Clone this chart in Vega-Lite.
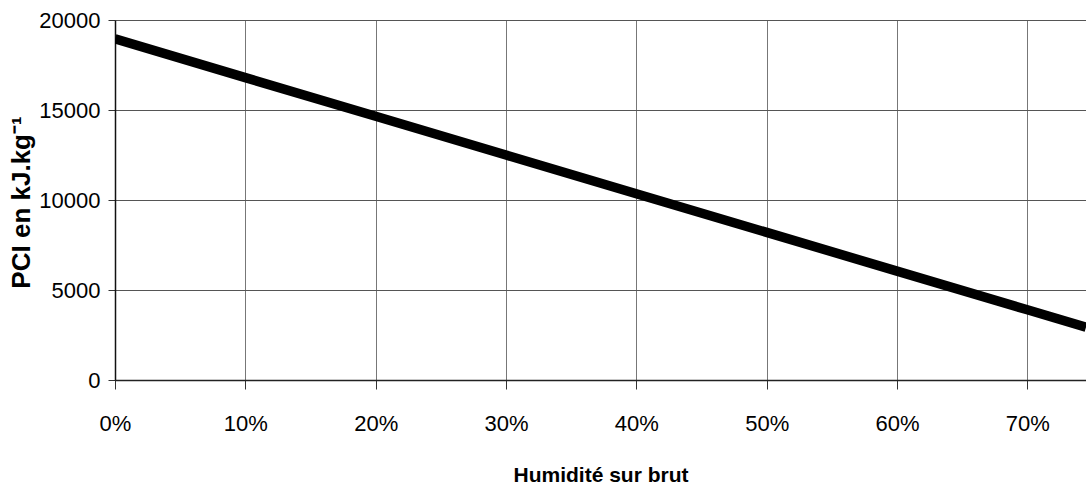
{
  "$schema": "https://vega.github.io/schema/vega-lite/v6.json",
  "autosize": "none",
  "width": 971,
  "height": 360,
  "padding": {"left": 115, "top": 20, "right": 0, "bottom": 110},
  "background": "white",
  "config": {"view": {"stroke": null}},
  "data": {"values": [
    {"h": 0.0, "pci": 18950},
    {"h": 0.1, "pci": 16800},
    {"h": 0.2, "pci": 14650},
    {"h": 0.3, "pci": 12500},
    {"h": 0.4, "pci": 10350},
    {"h": 0.5, "pci": 8200},
    {"h": 0.6, "pci": 6050},
    {"h": 0.7, "pci": 3900},
    {"h": 0.745, "pci": 2930}
  ]},
  "mark": {"type": "line", "color": "black", "strokeWidth": 9.5, "clip": true, "strokeCap": "butt"},
  "encoding": {
    "x": {
      "field": "h", "type": "quantitative",
      "scale": {"domain": [0, 0.745], "nice": false, "zero": false},
      "axis": {
        "values": [0, 0.1, 0.2, 0.3, 0.4, 0.5, 0.6, 0.7],
        "format": ".0%",
        "labelFlush": false,
        "title": "Humidité sur brut",
        "titleFont": "Liberation Sans, Arial, sans-serif",
        "titleFontSize": 21, "titleFontWeight": "bold", "titleColor": "black",
        "titlePadding": 30,
        "labelFont": "Liberation Sans, Arial, sans-serif",
        "labelFontSize": 22, "labelColor": "black", "labelPadding": 24,
        "tickSize": 9, "tickColor": "#333", "domainColor": "#222", "domainWidth": 1.5,
        "grid": true, "gridColor": "#777", "gridWidth": 1
      }
    },
    "y": {
      "field": "pci", "type": "quantitative",
      "scale": {"domain": [0, 20000], "nice": false},
      "axis": {
        "values": [0, 5000, 10000, 15000, 20000],
        "format": "d",
        "labelFlush": false,
        "title": "PCI en kJ.kg⁻¹",
        "titleFont": "Liberation Sans, Arial, sans-serif",
        "titleFontSize": 26, "titleFontWeight": "bold", "titleColor": "black",
        "titlePadding": 4,
        "titleY": 182,
        "labelFont": "Liberation Sans, Arial, sans-serif",
        "labelFontSize": 22, "labelColor": "black", "labelPadding": 8,
        "tickSize": 7, "tickColor": "#333", "domainColor": "#111", "domainWidth": 1.5,
        "grid": true, "gridColor": "#555", "gridWidth": 1.2
      }
    }
  }
}
